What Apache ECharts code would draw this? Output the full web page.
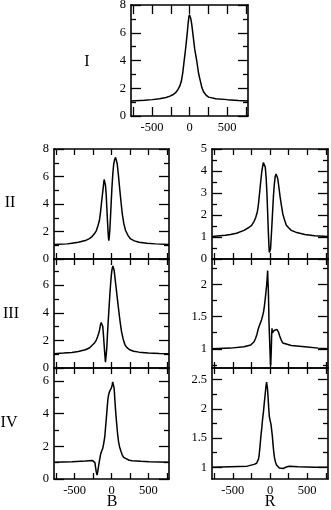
<!DOCTYPE html>
<html><head><meta charset="utf-8">
<script src="https://cdn.jsdelivr.net/npm/echarts@6/dist/echarts.min.js"></script>
<style>html,body{margin:0;padding:0;background:#fff}#c{width:331px;height:510px}</style>
</head><body><div id="c"></div>
<script>
// ---- data ----
const xTickValues = [-750, -500, -250, 0, 250, 500, 750];
const xLabelValues = [-500, 0, 500];

const panelI = [[-780,1.08],[-600,1.13],[-496,1.18],[-400,1.24],[-314,1.33],[-260,1.43],[-223,1.53],[-185,1.68],[-155,1.9],[-130,2.15],[-109,2.5],[-90,3.1],[-73,3.9],[-55,4.7],[-41,5.4],[-28,6.1],[-18,6.7],[-8,7.15],[0,7.3],[8,7.2],[18,7.0],[30,6.6],[50,5.7],[70,4.8],[96,4.0],[120,3.1],[141,2.6],[165,2.05],[187,1.75],[220,1.5],[255,1.36],[350,1.25],[505,1.18],[650,1.12],[780,1.08]];
const panelIIB = [[-780,1.05],[-600,1.1],[-537,1.15],[-450,1.22],[-355,1.34],[-300,1.48],[-264,1.63],[-230,1.85],[-205,2.07],[-185,2.4],[-164,2.8],[-150,3.35],[-137,4.02],[-125,4.6],[-114,5.12],[-105,5.55],[-100,5.78],[-92,5.7],[-82,5.37],[-72,4.7],[-64,3.78],[-55,2.8],[-45,1.83],[-40,1.5],[-36,1.34],[-30,1.6],[-23,2.07],[-14,3.0],[-5,4.02],[5,5.1],[18,6.22],[30,6.9],[41,7.2],[48,7.33],[55,7.39],[62,7.3],[77,6.95],[92,6.2],[109,5.24],[128,4.2],[146,3.29],[168,2.55],[191,2.07],[225,1.7],[259,1.46],[310,1.32],[373,1.22],[480,1.15],[600,1.1],[780,1.05]];
const panelIIR = [[-780,1.02],[-600,1.08],[-532,1.11],[-450,1.17],[-350,1.3],[-290,1.42],[-250,1.52],[-215,1.7],[-191,1.9],[-170,2.15],[-155,2.5],[-140,3.0],[-123,3.58],[-110,3.98],[-100,4.19],[-90,4.38],[-82,4.45],[-73,4.38],[-64,4.19],[-52,3.7],[-41,2.97],[-32,2.15],[-23,1.3],[-15,0.65],[-9,0.3],[0,0.26],[7,0.45],[14,0.84],[25,1.5],[36,2.21],[47,2.9],[59,3.43],[70,3.75],[82,3.86],[92,3.82],[104,3.66],[120,3.25],[136,2.82],[155,2.4],[172,2.06],[195,1.78],[218,1.55],[250,1.42],[286,1.3],[360,1.2],[468,1.11],[600,1.06],[780,1.02]];
const panelIIIB = [[-780,1.03],[-650,1.08],[-537,1.13],[-450,1.2],[-355,1.32],[-300,1.45],[-255,1.68],[-225,1.85],[-205,2.04],[-190,2.25],[-173,2.52],[-160,2.8],[-150,3.12],[-140,3.3],[-132,3.41],[-125,3.3],[-118,3.0],[-108,2.3],[-100,1.68],[-90,0.95],[-82,0.43],[-73,0.9],[-64,1.44],[-55,2.4],[-45,3.36],[-34,4.3],[-23,5.28],[-12,6.1],[0,6.84],[9,7.2],[18,7.39],[27,7.3],[36,7.08],[50,6.4],[64,5.76],[82,4.9],[100,4.08],[118,3.3],[136,2.64],[158,2.1],[182,1.68],[210,1.48],[246,1.32],[300,1.22],[373,1.15],[500,1.09],[650,1.05],[780,1.03]];
const panelIIIR = [[-780,1.0],[-532,1.01],[-350,1.03],[-259,1.06],[-214,1.11],[-195,1.16],[-177,1.22],[-160,1.3],[-146,1.35],[-130,1.4],[-114,1.45],[-100,1.51],[-86,1.58],[-75,1.67],[-64,1.78],[-55,1.88],[-45,1.99],[-38,2.1],[-32,2.22],[-27,2.05],[-23,1.94],[-18,1.7],[-14,1.42],[-7,1.2],[0,0.96],[5,0.8],[9,0.74],[13,0.85],[18,1.01],[22,1.2],[27,1.32],[32,1.25],[36,1.22],[45,1.26],[59,1.29],[70,1.31],[82,1.32],[95,1.3],[114,1.26],[130,1.2],[150,1.14],[172,1.09],[195,1.06],[286,1.05],[468,1.03],[650,1.01],[780,1.0]];
const panelIVB = [[-780,1.02],[-537,1.06],[-355,1.1],[-260,1.14],[-235,1.16],[-225,1.0],[-218,0.76],[-207,0.45],[-196,0.24],[-185,0.5],[-173,0.86],[-160,1.2],[-150,1.47],[-135,1.7],[-118,1.88],[-105,2.2],[-91,2.59],[-80,3.2],[-68,3.82],[-58,4.4],[-50,4.84],[-40,5.15],[-27,5.35],[-18,5.42],[-9,5.45],[0,5.6],[9,5.76],[16,5.95],[23,6.05],[30,5.85],[36,5.55],[45,4.9],[55,4.22],[68,3.5],[82,2.8],[95,2.3],[109,1.98],[128,1.7],[146,1.47],[165,1.32],[191,1.22],[240,1.15],[282,1.12],[400,1.08],[510,1.06],[650,1.04],[780,1.02]];
const panelIVR = [[-780,1.0],[-532,1.01],[-305,1.02],[-214,1.05],[-180,1.07],[-168,1.09],[-155,1.14],[-146,1.21],[-135,1.35],[-123,1.53],[-110,1.68],[-100,1.82],[-88,1.95],[-77,2.1],[-65,2.25],[-54,2.39],[-46,2.46],[-41,2.48],[-34,2.35],[-27,2.22],[-18,2.03],[-9,1.87],[2,1.8],[14,1.73],[24,1.62],[32,1.53],[40,1.4],[50,1.27],[60,1.17],[73,1.09],[88,1.04],[104,1.02],[125,0.99],[150,0.97],[175,0.98],[195,0.99],[230,1.01],[264,1.02],[377,1.01],[600,1.0],[780,1.0]];

const yLabelsI = [0,2,4,6,8],   yMinorI = [1,3,5,7];
const yLabelsIIB = [0,2,4,6,8], yMinorIIB = [1,3,5,7];
const yLabelsIIIB = [0,2,4,6],  yMinorIIIB = [1,3,5,7];
const yLabelsIVB = [0,2,4,6],   yMinorIVB = [1,3,5];
const yLabelsIIR = [0,1,2,3,4,5], yMinorIIR = [0.5,1.5,2.5,3.5,4.5];
const yLabelsIIIR = [1,1.5,2],  yMinorIIIR = [0.75,1.25,1.75,2.25];
const yLabelsIVR = [1,1.5,2,2.5], yMinorIVR = [1.25,1.75,2.25];

const rowNames = ['I','II','III','IV'];
const colNames = ['B','R'];

// ---- layout ----
const FONT = 'Liberation Serif';
const panels = [
  {g:{left:131,top:5,width:117,height:111}, yr:[0,8], yl:yLabelsI, ym:yMinorI, d:panelI, xl:true, xt:9},
  {g:{left:54,top:149,width:115,height:110}, yr:[0,8], yl:yLabelsIIB, ym:yMinorIIB, d:panelIIB, xl:false, xt:6},
  {g:{left:212,top:149,width:116,height:110}, yr:[0,5], yl:yLabelsIIR, ym:yMinorIIR, d:panelIIR, xl:false, xt:6},
  {g:{left:54,top:259,width:115,height:109}, yr:[0,7.9], yl:yLabelsIIIB, ym:yMinorIIIB, d:panelIIIB, xl:false, xt:6},
  {g:{left:212,top:259,width:116,height:109}, yr:[0.7,2.4], yl:yLabelsIIIR, ym:yMinorIIIR, d:panelIIIR, xl:false, xt:6},
  {g:{left:54,top:368,width:115,height:111}, yr:[0,6.8], yl:yLabelsIVB, ym:yMinorIVB, d:panelIVB, xl:true, xt:6},
  {g:{left:212,top:368,width:116,height:111}, yr:[0.8,2.7], yl:yLabelsIVR, ym:yMinorIVR, d:panelIVR, xl:true, xt:6}
];

const lineStyle = {color:'#000', width:1.6};
const labelStyle = {color:'#000', fontFamily:FONT, fontSize:12.5};
const grid = [], xAxis = [], yAxis = [], series = [];
panels.forEach((p, i) => {
  grid.push(Object.assign({outerBoundsMode:'none', containLabel:false}, p.g));
  ['bottom','top'].forEach(pos => {
    xAxis.push({gridIndex:i, type:'value', min:-780, max:780, position:pos,
      axisLine:{show:true, onZero:false, lineStyle},
      axisTick:{show:true, inside:true, length:p.xt, customValues:xTickValues, lineStyle:{color:'#000', width:1.3}},
      axisLabel:{show: pos==='bottom' && p.xl, customValues:xLabelValues, margin:5, ...labelStyle},
      splitLine:{show:false}});
  });
  ['left','right'].forEach(pos => {
    yAxis.push({gridIndex:i, type:'value', min:p.yr[0], max:p.yr[1], position:pos,
      axisLine:{show:true, onZero:false, lineStyle},
      axisTick:{show:true, inside:true, length:10, customValues:p.yl, lineStyle:{color:'#000', width:1.3}},
      axisLabel:{show: pos==='left', customValues:p.yl, margin:5, ...labelStyle},
      splitLine:{show:false}});
    yAxis.push({gridIndex:i, type:'value', min:p.yr[0], max:p.yr[1], position:pos,
      axisLine:{show:false, onZero:false},
      axisTick:{show:true, inside:true, length:5, customValues:p.ym, lineStyle:{color:'#000', width:1.3}},
      axisLabel:{show:false}, splitLine:{show:false}});
  });
  series.push({type:'line', xAxisIndex:i*2, yAxisIndex:i*4, data:p.d, showSymbol:false,
    smooth:false, lineStyle:{color:'#000', width:1.5}, clip:true, animation:false});
});

const textStyle = (t, x, y, s) => ({type:'text', x, y, style:{text:t, fill:'#000', font:s+'px "'+FONT+'"', textAlign:'center', textVerticalAlign:'middle'}});
const graphic = [
  textStyle(rowNames[0], 87, 62, 16),
  textStyle(rowNames[1], 10, 203, 16),
  textStyle(rowNames[2], 11, 314, 16),
  textStyle(rowNames[3], 9, 423, 16),
  textStyle(colNames[0], 112, 502, 16),
  textStyle(colNames[1], 270, 502, 16)
];

const chart = echarts.init(document.getElementById('c'), null, {renderer:'canvas'});
chart.setOption({animation:false, backgroundColor:'#fff', grid, xAxis, yAxis, series, graphic});
</script></body></html>
